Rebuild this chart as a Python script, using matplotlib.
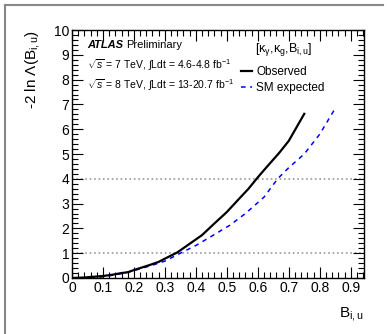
import matplotlib
matplotlib.use('Agg')
import matplotlib.pyplot as plt
from matplotlib.lines import Line2D
from matplotlib.ticker import MultipleLocator

plt.rcParams['font.family'] = ['Liberation Sans', 'DejaVu Sans']
plt.rcParams['mathtext.fontset'] = 'custom'
plt.rcParams['mathtext.rm'] = 'Liberation Sans'
plt.rcParams['mathtext.it'] = 'Liberation Sans:italic'
plt.rcParams['mathtext.bf'] = 'Liberation Sans:bold'

# Observed profile likelihood scan
obs_x = [0, 0.04, 0.10, 0.13, 0.16, 0.18, 0.20, 0.25, 0.28, 0.30, 0.34, 0.38,
         0.42, 0.46, 0.50, 0.54, 0.57, 0.60, 0.62, 0.67, 0.70, 0.75]
obs_y = [0, 0.02, 0.08, 0.13, 0.20, 0.23, 0.32, 0.52, 0.65, 0.78, 1.03, 1.38,
         1.73, 2.20, 2.66, 3.20, 3.60, 4.06, 4.35, 5.06, 5.53, 6.62]

# SM expected scan
exp_x = [0, 0.05, 0.10, 0.15, 0.20, 0.25, 0.30, 0.35, 0.40, 0.45, 0.51, 0.56,
         0.62, 0.664, 0.70, 0.75, 0.80, 0.846]
exp_y = [0, -0.03, 0.05, 0.15, 0.30, 0.48, 0.68, 1.00, 1.31, 1.68, 2.13, 2.60,
         3.26, 4.00, 4.45, 5.00, 5.80, 6.76]

# reference levels (68% / 95% CL)
cl_levels = [1, 4]

x_ticks = [0, 0.1, 0.2, 0.3, 0.4, 0.5, 0.6, 0.7, 0.8, 0.9]
x_labels = ['0', '0.1', '0.2', '0.3', '0.4', '0.5', '0.6', '0.7', '0.8', '0.9']

fig = plt.figure(figsize=(3.87, 3.34), dpi=100)
ax = fig.add_axes([0.186, 0.1677, 0.7546, 0.7423])

for lvl in cl_levels:
    ax.axhline(lvl, color='#999999', linestyle=':', linewidth=1.2, zorder=1)

ax.plot(obs_x, obs_y, color='black', linewidth=1.6, label='Observed', zorder=3)
ax.plot(exp_x, exp_y, color='blue', linewidth=1.1, linestyle=(0, (3, 3)),
        label='SM expected', zorder=2)

ax.set_xlim(0, 0.943)
ax.set_ylim(0, 10)
ax.xaxis.set_minor_locator(MultipleLocator(0.02))
ax.yaxis.set_major_locator(MultipleLocator(1))
ax.yaxis.set_minor_locator(MultipleLocator(0.2))
ax.set_xticks(x_ticks)
ax.set_xticklabels(x_labels)
ax.tick_params(which='both', direction='in', top=True, right=True, labelsize=10, pad=2)
ax.tick_params(which='major', length=8, width=0.8)
ax.tick_params(which='minor', length=4, width=0.8)
for sp in ax.spines.values():
    sp.set_linewidth(1.0)

# ATLAS label block
ax.text(0.051, 0.94, 'ATLAS', transform=ax.transAxes, fontsize=8,
        fontweight='bold', fontstyle='italic', va='center', ha='left')
ax.text(0.186, 0.94, 'Preliminary', transform=ax.transAxes, fontsize=8,
        va='center', ha='left')
ax.text(0.051, 0.859, r'$\sqrt{s}$ = 7 TeV, $\int$Ldt = 4.6-4.8 fb$^{-1}$',
        transform=ax.transAxes, fontsize=7.5, va='center', ha='left')
ax.text(0.051, 0.778, r'$\sqrt{s}$ = 8 TeV, $\int$Ldt = 13-20.7 fb$^{-1}$',
        transform=ax.transAxes, fontsize=7.5, va='center', ha='left')

# legend
ax.text(0.627, 0.922, r'[$\mathrm{\kappa}_{\mathrm{\gamma}}$,$\mathrm{\kappa}_{\mathrm{g}}$,B$_{\mathrm{i,u}}$]',
        transform=ax.transAxes, fontsize=9, va='center', ha='left')
handles = [Line2D([], [], color='black', linewidth=1.6),
           Line2D([], [], color='blue', linewidth=1.1, linestyle=(0, (3, 3)))]
ax.legend(handles, ['Observed', 'SM expected'], loc='upper left',
          bbox_to_anchor=(0.555, 0.885), frameon=False, fontsize=8.5,
          handlelength=0.95, handletextpad=0.35, labelspacing=0.4, borderpad=0.1)

fig.text(0.085, 0.910, r'-2 ln $\Lambda$(B$_{\mathrm{i,u}}$)', rotation=90, fontsize=11,
         ha='center', va='top')
fig.text(0.9406, 0.060, r'B$_{\mathrm{i,u}}$', fontsize=11, ha='right', va='center')

# grey frame of the canvas (top and left edges)
fig.add_artist(Line2D([0.013, 0.99], [0.985, 0.985], color='#888888', linewidth=1.5,
                      transform=fig.transFigure))
fig.add_artist(Line2D([0.014, 0.014], [0.0, 0.985], color='#888888', linewidth=1.5,
                      transform=fig.transFigure))

fig.savefig('out.png', dpi=100)
